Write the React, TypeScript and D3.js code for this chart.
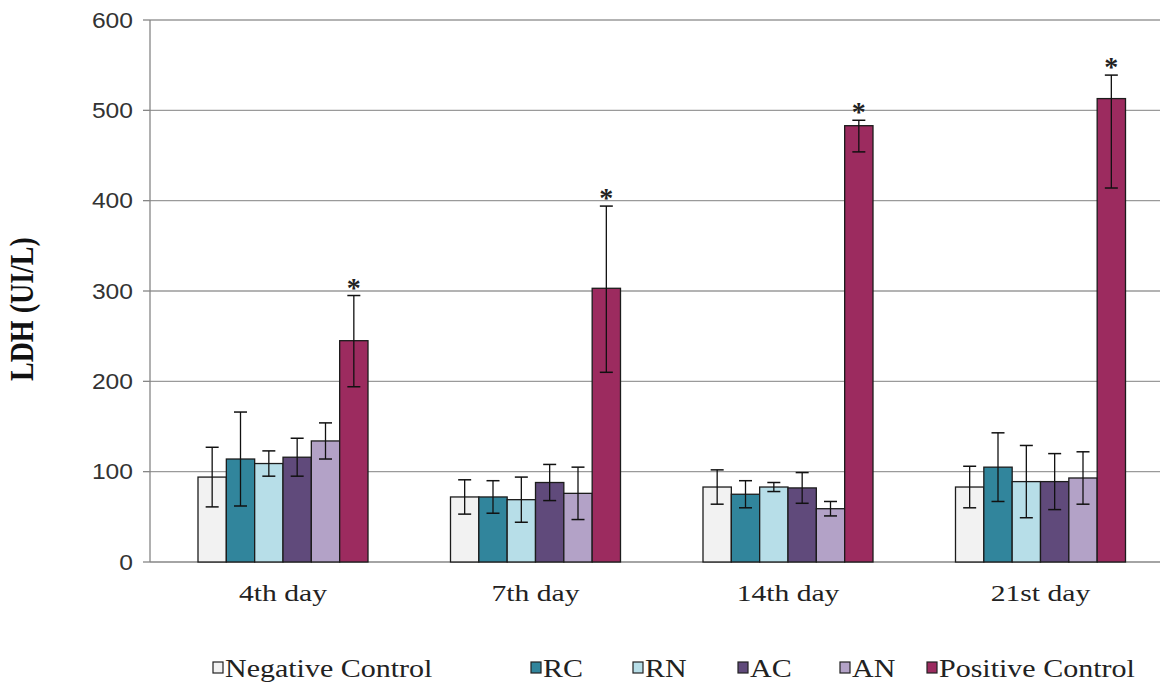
import { scaleBand, scaleLinear } from "d3";

const days = ["4th day", "7th day", "14th day", "21st day"];
const seriesNames = ["Negative Control", "RC", "RN", "AC", "AN", "Positive Control"];
const seriesColors = ["#f2f2f2", "#31859c", "#b7dee8", "#604a7b", "#b3a2c7", "#9c2b5f"];

const negativeControl = [94, 72, 83, 83];
const rc = [114, 72, 75, 105];
const rn = [109, 69, 83, 89];
const ac = [116, 88, 82, 89];
const an = [134, 76, 59, 93];
const positiveControl = [245, 303, 483, 513];

// error bars (up / down)
const negativeControlErr = [33, 19, 19, 23];
const rcErr = [52, 18, 15, 38];
const rnErr = [14, 25, 5, 40];
const acErr = [21, 20, 17, 31];
const anErr = [20, 29, 8, 29];
const positiveControlErrUp = [50, 91, 6, 26];
const positiveControlErrDown = [51, 93, 29, 99];

const yTicks = [0, 100, 200, 300, 400, 500, 600];
const significant = [false, false, false, false, false, true];

const values = [negativeControl, rc, rn, ac, an, positiveControl];
const errUp = [negativeControlErr, rcErr, rnErr, acErr, anErr, positiveControlErrUp];
const errDown = [negativeControlErr, rcErr, rnErr, acErr, anErr, positiveControlErrDown];

const W = 1165;
const H = 684;
const left = 150;
const right = 1160;
const top = 20;
const bottom = 562;
const stretch = 1.2;
const legendX = [213, 531, 633, 738, 840, 927];
const barStart = 48;
const barEnd = 218;

export default function App() {
	const x0 = scaleBand<string>().domain(days).range([left, right]);
	const x1 = scaleBand<string>().domain(seriesNames).range([barStart, barEnd]);
	const y = scaleLinear().domain([0, 600]).range([bottom, top]);
	const cap = 6.5;
	const serif = "Liberation Serif, Times New Roman, serif";

	return (
		<svg
			width={W}
			height={H}
			style={{ position: "absolute", left: 0, top: 0, background: "#fff" }}
		>
			{yTicks.map((t) => (
				<g key={t}>
					{t > 0 && (
						<line x1={left} x2={right} y1={y(t)} y2={y(t)} stroke="#9a9a9a" strokeWidth={1.4} />
					)}
					<line x1={left - 7} x2={left} y1={y(t)} y2={y(t)} stroke="#868686" strokeWidth={1.3} />
					<g transform={`translate(133,${y(t)}) scale(1.12,1)`}>
						<text
							textAnchor="end"
							dominantBaseline="central"
							fontFamily="Liberation Sans, Arial, sans-serif"
							fontSize={22}
							fill="#333"
						>
							{t}
						</text>
					</g>
				</g>
			))}
			<line x1={left} x2={left} y1={top} y2={bottom} stroke="#868686" strokeWidth={1.3} />
			<line x1={left} x2={right} y1={bottom} y2={bottom} stroke="#868686" strokeWidth={1.3} />

			{days.map((day, di) => {
				const gx = x0(day) ?? 0;
				return (
					<g key={day}>
						{seriesNames.map((s, si) => {
							const bx = gx + (x1(s) ?? 0);
							const bw = x1.bandwidth();
							const v = values[si][di];
							const cx = bx + bw / 2;
							const eTop = y(v + errUp[si][di]);
							const eBot = y(v - errDown[si][di]);
							return (
								<g key={s}>
									<rect
										x={bx}
										y={y(v)}
										width={bw}
										height={bottom - y(v)}
										fill={seriesColors[si]}
										stroke="#1c1c1c"
										strokeWidth={1.3}
									/>
									<line x1={cx} x2={cx} y1={eTop} y2={eBot} stroke="#111" strokeWidth={1.3} />
									<line x1={cx - cap} x2={cx + cap} y1={eTop} y2={eTop} stroke="#111" strokeWidth={1.5} />
									<line x1={cx - cap} x2={cx + cap} y1={eBot} y2={eBot} stroke="#111" strokeWidth={1.5} />
									{significant[si] && (
										<text
											x={cx}
											y={eTop + 1}
											textAnchor="middle"
											fontFamily={serif}
											fontWeight="bold"
											fontSize={28}
											fill="#222"
										>
											*
										</text>
									)}
								</g>
							);
						})}
						<g transform={`translate(${gx + (barStart + barEnd) / 2},601) scale(1.26,1)`}>
							<text textAnchor="middle" fontFamily={serif} fontSize={23.5} fill="#222">
								{day}
							</text>
						</g>
					</g>
				);
			})}

			<g transform={`translate(33,381) scale(${stretch},1) rotate(-90)`}>
				<text textAnchor="start" fontFamily={serif} fontWeight="bold" fontSize={28} fill="#111">
					LDH (UI/L)
				</text>
			</g>

			{seriesNames.map((s, si) => (
				<g key={s} transform={`translate(${legendX[si]},0)`}>
					<rect x={0} y={662} width={10} height={11} fill={seriesColors[si]} stroke="#222" strokeWidth={1.2} />
					<g transform={`translate(12,677) scale(${stretch},1)`}>
						<text fontFamily={serif} fontSize={25} fill="#222">
							{s}
						</text>
					</g>
				</g>
			))}
		</svg>
	);
}
